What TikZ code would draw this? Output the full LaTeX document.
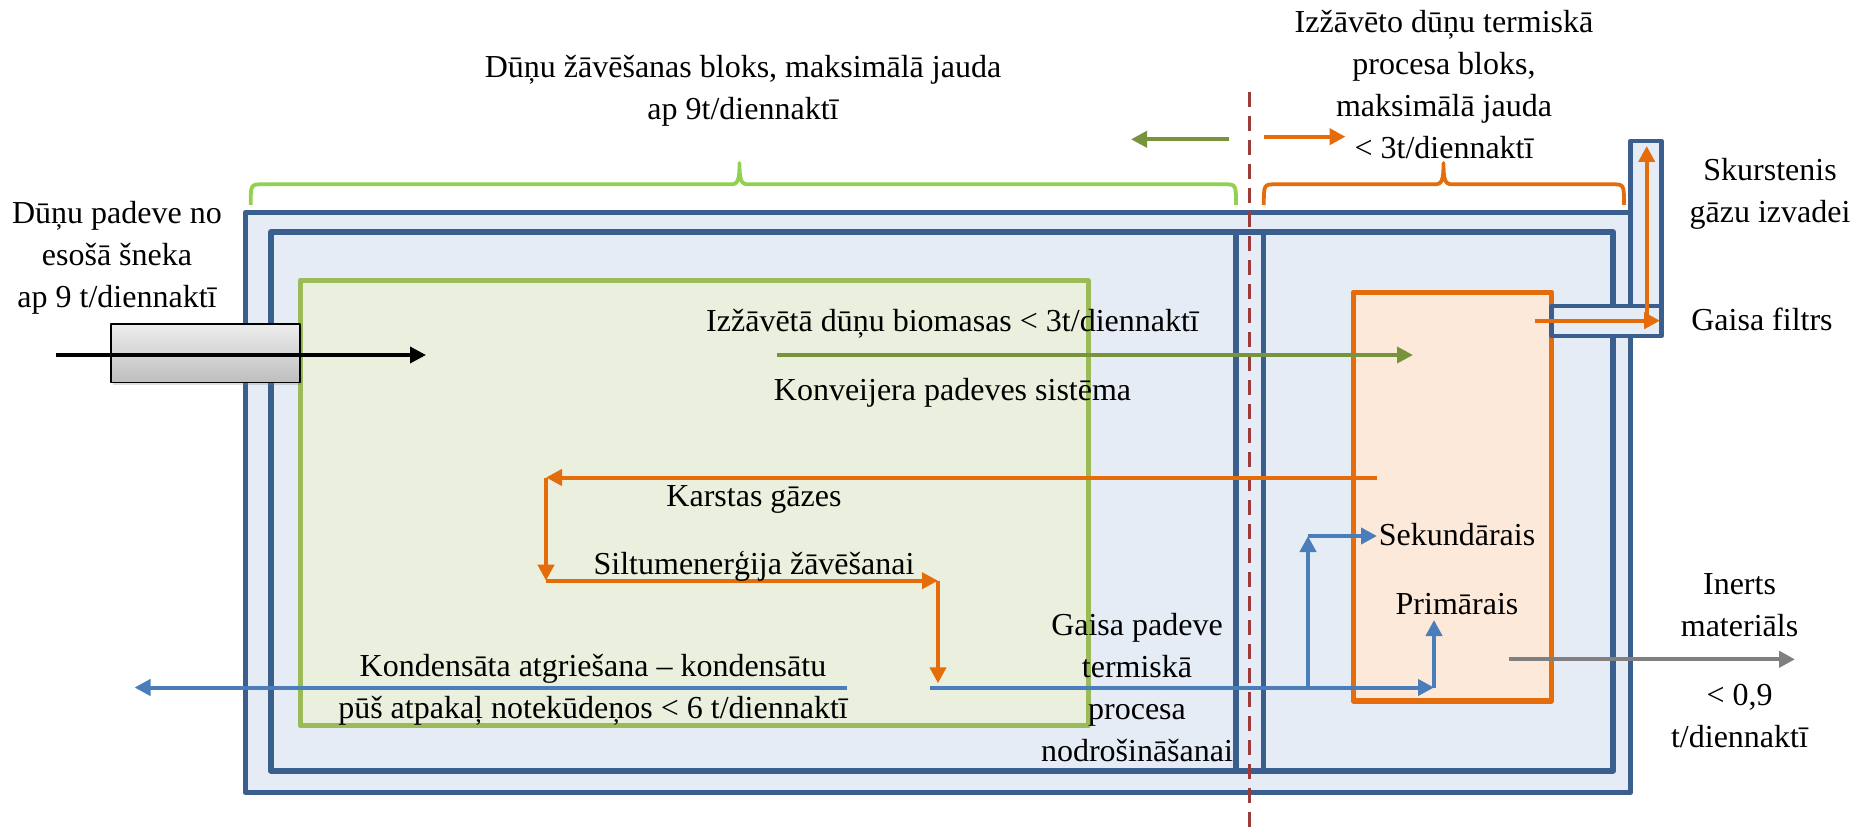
\documentclass[tikz,border=0pt]{standalone}
\usepackage{fontspec}
\setmainfont{Liberation Serif}
\usetikzlibrary{arrows.meta,shadows}
\definecolor{bblue}{HTML}{3A5F8E}
\definecolor{lblue}{HTML}{E5ECF6}
\definecolor{gfill}{HTML}{EBF0DE}
\definecolor{gline}{HTML}{9BBB59}
\definecolor{gbrace}{HTML}{92D050}
\definecolor{garrow}{HTML}{77933C}
\definecolor{oline}{HTML}{E46C0A}
\definecolor{ofill}{HTML}{FDE9D9}
\definecolor{barrow}{HTML}{4A7EBB}
\definecolor{dred}{HTML}{9B3B3A}
\definecolor{garr}{HTML}{808080}
\definecolor{screwtop}{HTML}{EEEEEE}
\definecolor{screwbot}{HTML}{BEBEBE}
\begin{document}
\begin{tikzpicture}[x=0.5pt,y=-0.5pt,line join=round,
  lbl/.style={font=\fontsize{16}{21}\selectfont, align=center, inner sep=0pt, text=black},
  arr/.style={line width=2pt, -{Triangle[length=8pt,width=8pt]}},
  blueln/.style={draw=bblue, line width=2.6pt},
  brace/.style={line width=1.9pt}]
\fill[white] (0,0) rectangle (1867,834);
\useasboundingbox (0,0) rectangle (1867,834);
% blocks
\draw[blueln, fill=lblue] (245.5,212.5) rectangle (1630.5,792.5);
\draw[draw=bblue, line width=2.4pt, fill=lblue] (1630.5,141) rectangle (1661.5,306);
\draw[blueln] (271,232) rectangle (1613,771);
\draw[blueln] (1236,232) rectangle (1263.5,771);
\draw[draw=gline, line width=2.5pt, fill=gfill] (300,280.5) rectangle (1088,725.5);
\draw[draw=oline, line width=2.8pt, fill=ofill] (1353.5,292.3) rectangle (1551.5,701);
\draw[draw=bblue, line width=2.4pt, fill=lblue] (1551.5,306) rectangle (1661.5,336);
% screw feeder
\node[draw=black, line width=0.9pt, top color=screwtop, bottom color=screwbot,
  minimum width=94.4pt, minimum height=29.4pt, inner sep=0pt,
  drop shadow={shadow xshift=1pt, shadow yshift=-1.5pt, opacity=0.25}] (screw) at (205.2,353) {};
% braces
\draw[brace, gbrace] (250.7,205) .. controls (250.7,184.3) .. (263,184.3) -- (731,184.3)
  .. controls (738,184.3) and (739.5,180) .. (739.5,163)
  .. controls (739.5,180) and (741,184.3) .. (748,184.3) -- (1224,184.3)
  .. controls (1236,184.3) .. (1236,205);
\draw[brace, oline] (1263.8,205) .. controls (1263.8,184.3) .. (1276,184.3) -- (1435,184.3)
  .. controls (1442,184.3) and (1443.5,180) .. (1443.5,163)
  .. controls (1443.5,180) and (1445,184.3) .. (1452,184.3) -- (1612,184.3)
  .. controls (1624,184.3) .. (1624,205);
% dashed divider
\coordinate (divT) at (1249.5,91.7);
\coordinate (divB) at (1249.5,834);
\draw[dred, line width=1.9pt, dash pattern=on 7.5pt off 4.5pt] (divT) -- (divB);
% coordinates for connectors
\coordinate (feedS) at (55.5,355);   \coordinate (feedE) at (426,355);
\coordinate (bioS) at (777,355);     \coordinate (bioE) at (1413,355);
\coordinate (legG1) at (1229,139.3); \coordinate (legG2) at (1131,139.3);
\coordinate (legO1) at (1264,136.7); \coordinate (legO2) at (1345.5,136.7);
\coordinate (gasS) at (1377,477.5);  \coordinate (gasA) at (546,477.5);
\coordinate (gasB) at (546,580.7);   \coordinate (gasC) at (938,580.7);
\coordinate (gasD) at (938,683.3);
\coordinate (kondS) at (847,687.5);  \coordinate (kondE) at (134.5,687.5);
\coordinate (airS) at (930,687.5);   \coordinate (airP) at (1434,687.5);
\coordinate (airPu) at (1434,620);
\coordinate (airJ) at (1308,687.5);  \coordinate (airSu) at (1308,536);
\coordinate (airSe) at (1377,536);
\coordinate (chS) at (1535,320.7);   \coordinate (chE) at (1660,320.7);
\coordinate (chV) at (1646.7,327);   \coordinate (chT) at (1646.7,146);
\coordinate (inS) at (1508.5,659.3); \coordinate (inE) at (1795,659.3);
% connectors
\draw[arr, black, line width=1.8pt] (feedS) -- (feedE);
\draw[arr, garrow, line width=1.9pt] (bioS) -- (bioE);
\draw[arr, garrow, line width=1.9pt] (legG1) -- (legG2);
\draw[arr, oline] (legO1) -- (legO2);
\draw[arr, oline] (gasS) -- (gasA);
\draw[arr, oline] (gasA) -- (gasB);
\draw[arr, oline] (gasB) -- (gasC);
\draw[arr, oline] (gasC) -- (gasD);
\draw[arr, barrow] (kondS) -- (kondE);
\draw[arr, barrow] (airS) -- (airP);
\draw[arr, barrow] (airP) -- (airPu);
\draw[arr, barrow] (airJ) -- (airSu);
\draw[arr, barrow] (airSu) -- (airSe);
\draw[arr, oline] (chS) -- (chE);
\draw[arr, oline] (chV) -- (chT);
\draw[arr, garr, line width=2.1pt] (inS) -- (inE);
% labels
\node[lbl] (tLeft) at (743,90.5) {\strut Dūņu žāvēšanas bloks, maksimālā jauda\\\strut ap 9t/diennaktī};
\node[lbl] (tRight) at (1444,87) {\strut Izžāvēto dūņu termiskā\\\strut procesa bloks,\\\strut maksimālā jauda\\\strut < 3t/diennaktī};
\node[lbl] (tFeed) at (117,257) {\strut Dūņu padeve no\\\strut esošā šneka\\\strut ap 9 t/diennaktī};
\node[lbl] (tChim) at (1770,193) {\strut Skurstenis\\\strut gāzu izvadei};
\node[lbl] (tFilt) at (1762,322.5) {\strut Gaisa filtrs};
\node[lbl] (tBio) at (952.5,323.5) {\strut Izžāvētā dūņu biomasas < 3t/diennaktī};
\node[lbl] (tConv) at (952.5,392.5) {\strut Konveijera padeves sistēma};
\node[lbl] (tGas) at (754,498) {\strut Karstas gāzes};
\node[lbl] (tHeat) at (754,566) {\strut Siltumenerģija žāvēšanai};
\node[lbl] (tSec) at (1457,537.5) {\strut Sekundārais};
\node[lbl] (tPrim) at (1457,606.5) {\strut Primārais};
\node[lbl] (tInert) at (1739.5,607.5) {\strut Inerts\\\strut materiāls};
\node[lbl] (tInAmt) at (1739.5,718) {\strut < 0,9\\\strut t/diennaktī};
\node[lbl] (tAir) at (1137,690.5) {\strut Gaisa padeve\\\strut termiskā\\\strut procesa\\\strut nodrošināšanai};
\node[lbl] (tKond) at (593,689.5) {\strut Kondensāta atgriešana – kondensātu\\\strut pūš atpakaļ notekūdeņos < 6 t/diennaktī};
\end{tikzpicture}
\end{document}
